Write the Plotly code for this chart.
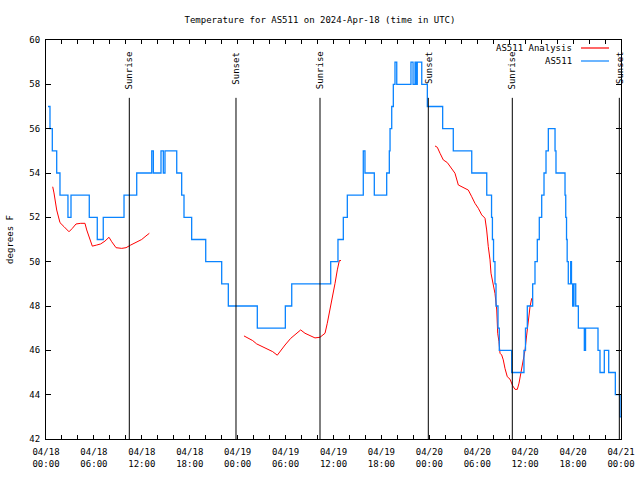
import pandas as pd
import plotly.graph_objects as go

# Time values are hours after 2024-04-18 00:00 UTC
START = "2024-04-18 00:00"

as511_hours = [0.25, 0.5, 0.79, 1.34, 1.75, 2.75, 3.13, 5.42, 6.42, 7.17, 9.77, 11.36,
               13.24, 13.44, 14.4, 14.69, 14.9, 16.37, 16.99, 17.28, 18.24, 20.0, 22.0,
               22.83, 26.46, 29.97, 30.77, 35.65, 36.56, 37.23, 37.73, 39.73, 39.94,
               41.11, 42.66, 42.99, 43.08, 43.29, 43.49, 43.7, 43.92, 45.7, 45.96, 46.21,
               46.33, 46.49, 47.05, 47.75, 49.67, 51.0, 53.31, 55.19, 55.79, 55.9, 56.04,
               56.22, 56.35, 56.6, 56.76, 58.31, 59.85, 60.04, 60.27, 60.94, 61.23, 61.52,
               61.77, 62.07, 62.36, 62.61, 62.9, 63.74, 63.86, 64.99, 65.08, 65.18, 65.26,
               65.4, 65.7, 65.8, 65.95, 66.11, 66.33, 66.66, 67.41, 67.56, 69.12, 69.37,
               69.91, 70.46, 71.29, 71.88, 72.0]
as511_temp = [57, 56, 55, 54, 53, 52, 53, 52, 51, 52, 53, 54,
              55, 54, 55, 54, 55, 54, 53, 52, 51, 50, 49,
              48, 47, 48, 49, 50, 51, 52, 53, 55, 54,
              53, 54, 55, 56, 57, 58, 59, 58, 59, 58, 59,
              58, 59, 58, 57, 56, 55, 54, 53, 52, 51, 50,
              49, 48, 47, 46, 45, 46, 47, 48, 49, 50, 51,
              52, 53, 54, 55, 56, 55, 54, 53, 52, 51, 50,
              49, 50, 49, 48, 49, 48, 47, 46, 47, 46, 45,
              46, 45, 44, 43, 43]

analysis_hours = [0.84, 1.0, 1.34, 1.75, 2.25, 2.88, 3.29, 3.76, 4.35, 4.88, 5.1, 5.42, 5.8,
                  6.35, 6.85, 7.39, 7.89, 8.23, 8.77, 9.48, 10.02, 10.61, 11.36, 11.98,
                  12.52, 12.94, None,
                  24.79, 25.33, 25.88, 26.38, 27.01, 27.84, 28.39, 28.96, 29.39, 29.93,
                  30.64, 31.31, 31.89, 32.43, 33.06, 33.68, 34.31, 34.94, 35.22, 35.56,
                  35.85, 36.19, 36.48, 36.73, 36.94, None,
                  48.71, 49.0, 49.34, 49.75, 50.25, 50.8, 51.21, 51.63, 52.25, 52.88,
                  53.31, 53.72, 54.13, 54.56, 54.97, 55.18, 55.38, 55.6, 55.72, 56.01,
                  56.22, 56.44, 56.56, 56.72, 56.85, 57.06, 57.26, 57.47, 57.76, 58.1,
                  58.44, 58.73, 59.02, 59.23, 59.44, 59.77, 59.98, 60.19, 60.39, 60.61,
                  60.82]
analysis_temp = [53.38, 53.1, 52.33, 51.76, 51.58, 51.35, 51.5, 51.7, 51.73, 51.73, 51.43,
                 51.05, 50.7, 50.75, 50.8, 50.93, 51.1, 50.9, 50.63, 50.6, 50.63, 50.75,
                 50.87, 51.0, 51.16, 51.28, None,
                 46.65, 46.54, 46.44, 46.29, 46.17, 46.05, 45.94, 45.78, 45.99, 46.24,
                 46.54, 46.74, 46.92, 46.77, 46.65, 46.56, 46.59, 46.77, 47.22, 47.82,
                 48.27, 49.02, 49.63, 50.05, 50.05, None,
                 55.22, 55.16, 54.89, 54.59, 54.47, 54.21, 53.99, 53.46, 53.34, 53.23,
                 52.93, 52.63, 52.41, 52.11, 51.96, 51.43, 50.68, 50.08, 49.48, 49.03,
                 48.57, 47.82, 46.77, 46.39, 45.87, 45.79, 45.57, 45.19, 44.81, 44.7,
                 44.4, 44.24, 44.24, 44.52, 44.89, 45.57, 46.0, 46.69, 47.37, 47.97,
                 48.35]

sun_hours = [10.43, 23.79, 34.31, 47.87, 58.39, 71.79]
sun_labels = ["Sunrise", "Sunset", "Sunrise", "Sunset", "Sunrise", "Sunset"]

tick_hours = [0, 6, 12, 18, 24, 30, 36, 42, 48, 54, 60, 66, 72]
tick_labels = ["04/18<br>00:00", "04/18<br>06:00", "04/18<br>12:00", "04/18<br>18:00",
               "04/19<br>00:00", "04/19<br>06:00", "04/19<br>12:00", "04/19<br>18:00",
               "04/20<br>00:00", "04/20<br>06:00", "04/20<br>12:00", "04/20<br>18:00",
               "04/21<br>00:00"]

base = pd.Timestamp(START)


def to_time(hours):
    return [None if h is None else base + pd.Timedelta(hours=h) for h in hours]


FONT = "DejaVu Sans Mono"
RED = "#ff0000"
BLUE = "#0a84ff"

fig = go.Figure()
fig.add_trace(go.Scatter(x=to_time(analysis_hours), y=analysis_temp, mode="lines",
                         name="AS511 Analysis", line=dict(color=RED, width=1),
                         connectgaps=False, showlegend=False))
fig.add_trace(go.Scatter(x=to_time(as511_hours), y=as511_temp, mode="lines",
                         name="AS511", line=dict(color=BLUE, width=1.3, shape="hv"),
                         showlegend=False))

for t, lab in zip(to_time(sun_hours), sun_labels):
    fig.add_shape(type="line", xref="x", yref="paper", x0=t, x1=t, y0=0, y1=0.855,
                  line=dict(color="black", width=1))
    fig.add_annotation(x=t, xref="x", yref="paper", y=0.977, yanchor="top",
                       xanchor="center", text=lab, textangle=-90, showarrow=False,
                       font=dict(family=FONT, size=9, color="black"))

# legend (top right, gnuplot style)
for i, (name, col) in enumerate([("AS511 Analysis", RED), ("AS511", BLUE)]):
    ypix = 48 + i * 13
    yp = 1 - (ypix - 40) / 399
    fig.add_annotation(x=(574 - 46) / 575, xref="paper", yref="paper", y=yp,
                       xanchor="right", yanchor="middle", text=name, showarrow=False,
                       font=dict(family=FONT, size=9, color="black"))
    fig.add_shape(type="line", xref="paper", yref="paper",
                  x0=(581 - 46) / 575, x1=(609 - 46) / 575, y0=yp, y1=yp,
                  line=dict(color=col, width=1.2))

fig.update_layout(
    width=640, height=480,
    margin=dict(l=46, r=19, t=40, b=41, pad=0),
    paper_bgcolor="white", plot_bgcolor="white",
    font=dict(family=FONT, size=9, color="black"),
    title=dict(text="Temperature for AS511 on 2024-Apr-18 (time in UTC)",
               x=0.5, xanchor="center", y=1 - 20 / 480, yanchor="middle",
               font=dict(family=FONT, size=9, color="black")),
)
fig.update_xaxes(
    type="date", range=[base, base + pd.Timedelta(hours=72)], automargin=False,
    tickvals=to_time(tick_hours), ticktext=tick_labels,
    ticks="inside", ticklen=4, tickcolor="black", tickwidth=1,
    minor=dict(dtick=2 * 3600 * 1000, ticks="inside", ticklen=4, tickcolor="black",
               tickwidth=1, tick0=base),
    showline=True, linecolor="black", linewidth=1, mirror="ticks",
    showgrid=False, zeroline=False, ticklabelstandoff=4,
    tickfont=dict(family=FONT, size=9, color="black"),
)
fig.update_yaxes(
    range=[42, 60], dtick=2, tick0=42, automargin=False,
    ticks="inside", ticklen=5, tickcolor="black", tickwidth=1,
    showline=True, linecolor="black", linewidth=1, mirror="ticks",
    showgrid=False, zeroline=False, ticklabelstandoff=3,
    title=dict(text="degrees F", font=dict(family=FONT, size=9, color="black"),
               standoff=14),
    tickfont=dict(family=FONT, size=9, color="black"),
)

fig.write_html("out.html", config={"displayModeBar": False},
               post_script="document.body.style.margin='0';document.body.style.padding='0';")
